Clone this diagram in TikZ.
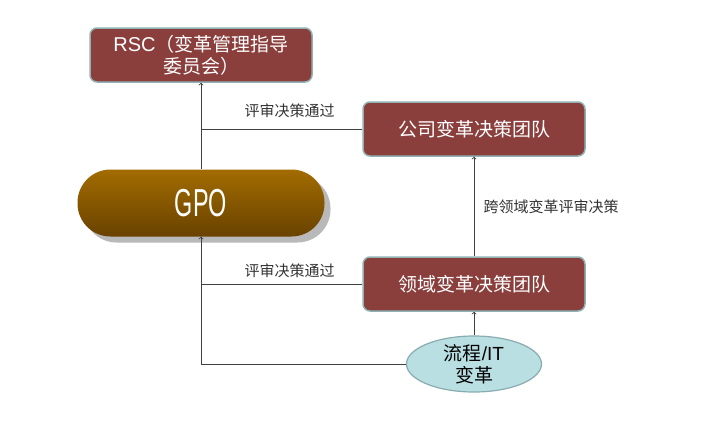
\documentclass[tikz,border=0pt]{standalone}
\usepackage{fontspec}
\setmainfont{Liberation Sans}
\newfontfamily\cjk{Noto Sans CJK SC}
\newfontfamily\gpofont[FakeStretch=0.6]{Liberation Sans}
\usetikzlibrary{positioning,shapes,arrows,shadows}
\definecolor{boxred}{HTML}{8A3F3D}
\definecolor{boxedge}{HTML}{90B2B4}
\definecolor{gpotop}{HTML}{A26C00}
\definecolor{gpobot}{HTML}{694200}
\definecolor{ovalfill}{HTML}{B9DFE2}
\definecolor{ovaledge}{HTML}{88ACAF}
\tikzset{>=to,
  team/.style={draw=boxedge, line width=1.5pt, fill=boxred, rounded corners=7pt,
    minimum width=222pt, minimum height=54pt, text=white, align=center,
    font=\cjk\fontsize{19}{22}\selectfont},
  gpobox/.style={rounded corners=33pt, minimum width=247pt, minimum height=67pt,
    top color=gpotop, bottom color=gpobot, text=white,
    font=\gpofont\fontsize{39}{39}\selectfont,
    drop shadow={shadow xshift=6pt, shadow yshift=-6pt, fill=gray!55, opacity=1}},
  change/.style={ellipse, draw=ovaledge, line width=1.2pt, fill=ovalfill,
    minimum width=135pt, minimum height=56pt, inner sep=0pt, align=center,
    font=\cjk\fontsize{19}{22}\selectfont},
  note/.style={font=\cjk\fontsize{15}{18}\selectfont, text=black!80},
  link/.style={draw=black!75, line width=0.8pt}
}
\begin{document}
\begin{tikzpicture}[x=1pt, y=-1pt]
    \useasboundingbox (0,0) rectangle (720,423);
    \node[team] (rsc) at (201,55) {{\normalfont\fontsize{20}{22}\selectfont RSC}（变革管理指导\\委员会）};
    \node[gpobox] (gpo) at (201,203) {GPO};
    \node[team] (corp) at (474,129) {公司变革决策团队};
    \node[team] (domain) at (474,284) {领域变革决策团队};
    \node[change] (chg) at (474,364) {流程{\normalfont /IT}\\变革};
    % links
    \draw[link,->] (gpo) -- (rsc);
    \draw[link] (corp.west) -- node[note, pos=0.45, above=8pt] {评审决策通过} (corp.west -| gpo.north);
    \draw[link] (domain.west) -- node[note, pos=0.45, above=3pt] {评审决策通过} (domain.west -| gpo.south);
    \draw[link,->] (domain) -- node[note, right=6pt] {跨领域变革评审决策} (corp);
    \draw[link,->] (chg) -- (domain);
    \draw[link,->] (chg.west) -| (gpo.south);
\end{tikzpicture}
\end{document}
